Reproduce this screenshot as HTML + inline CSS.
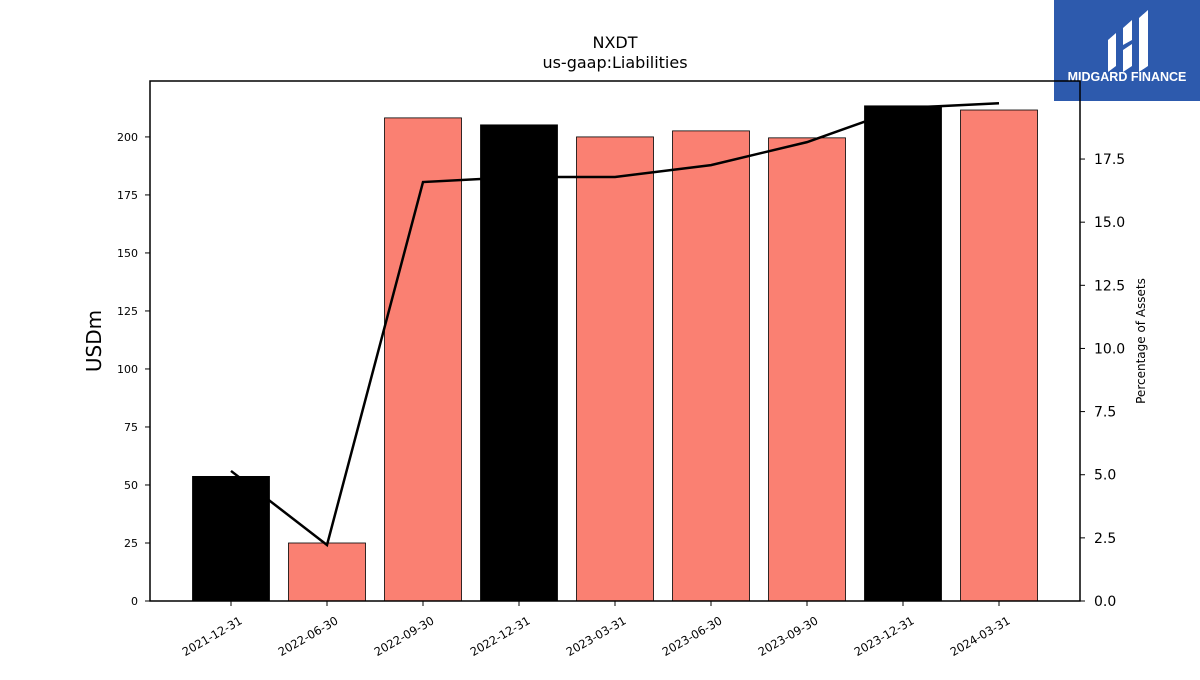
<!DOCTYPE html>
<html><head><meta charset="utf-8"><style>
body{margin:0;background:#fff;width:1200px;height:675px;overflow:hidden;font-family:"Liberation Sans","DejaVu Sans",sans-serif}
</style></head><body>
<svg id="chart" width="1200" height="675" xmlns="http://www.w3.org/2000/svg" font-family="DejaVu Sans, Liberation Sans, sans-serif">
<g>
<rect x="1054" y="0" width="146" height="101" fill="#2d5aad"/>
<path d="M1108 40 L1116 33 L1116 66 L1108 72 Z" fill="#fff"/>
<path d="M1123 28 L1132 20 L1132 40 L1123 45 Z M1123 50 L1132 44 L1132 66 L1123 72 Z" fill="#fff"/>
<path d="M1139 18 L1148 10 L1148 66 L1139 72 Z" fill="#fff"/>
<text x="1127" y="81" text-anchor="middle" font-size="12.5" font-weight="bold" fill="#fff" font-family="Liberation Sans, sans-serif">MIDGARD FINANCE</text>
</g>
<text x="615" y="48" text-anchor="middle" font-size="16">NXDT</text>
<text x="615" y="68" text-anchor="middle" font-size="16">us-gaap:Liabilities</text>
<text transform="translate(101,341) rotate(-90)" text-anchor="middle" font-size="20">USDm</text>
<text transform="translate(1145,341) rotate(-90)" text-anchor="middle" font-size="12">Percentage of Assets</text>
<g id="bars"></g><g id="xaxis"></g><g id="yaxis"></g><g id="y2axis"></g><g id="line"></g>
<rect x="150" y="81" width="930" height="520" fill="none" stroke="#000" stroke-width="1.5"/>
</svg>
<script>
const categories=["2021-12-31","2022-06-30","2022-09-30","2022-12-31","2023-03-31","2023-06-30","2023-09-30","2023-12-31","2024-03-31"];
const liabilities=[53.7,25,208.2,205.2,200,202.6,199.6,213.4,211.6];
const pctAssets=[5.15,2.22,16.59,16.79,16.79,17.26,18.17,19.52,19.71];
const yTicks=[0,25,50,75,100,125,150,175,200];
const y2Ticks=[0,2.5,5,7.5,10,12.5,15,17.5];
const NS="http://www.w3.org/2000/svg";
const L=150,R=1080,T=81,B=601;
const yMax=224.1,y2Max=20.59;
const y=v=>B-v/yMax*(B-T);
const y2=v=>B-v/y2Max*(B-T);
const step=96,x0=231;
const x=i=>x0+i*step;
const bw=77;
function mk(t,a,p){const e=document.createElementNS(NS,t);for(const k in a)e.setAttribute(k,a[k]);document.getElementById(p).appendChild(e);return e;}
categories.forEach((c,i)=>{
 const r=mk("rect",{x:x(i)-bw/2,y:y(liabilities[i]),width:bw,height:B-y(liabilities[i]),fill:c.endsWith("12-31")?"#000":"#fa8072",stroke:"#000","stroke-width":0.8},"bars");
 
 
 mk("line",{x1:x(i),x2:x(i),y1:B,y2:B+5,stroke:"#000"},"xaxis");
 const t=mk("text",{x:x(i)+12,y:B+22,"font-size":11.5,"text-anchor":"end",transform:`rotate(-30 ${x(i)+12} ${B+22})`},"xaxis");
 t.textContent=c;
 
 
});
yTicks.forEach(v=>{
 mk("line",{x1:L-5,x2:L,y1:y(v),y2:y(v),stroke:"#000"},"yaxis");
 const t=mk("text",{x:L-12,y:y(v)+4,"font-size":11,"text-anchor":"end"},"yaxis");
 t.textContent=v;
 
 
});
y2Ticks.forEach(v=>{
 mk("line",{x1:R,x2:R+5,y1:y2(v),y2:y2(v),stroke:"#000"},"y2axis");
 const t=mk("text",{x:R+14,y:y2(v)+5,"font-size":14},"y2axis");
 t.textContent=v.toFixed(1);
 
 
});
const pl=mk("polyline",{points:pctAssets.map((v,i)=>x(i)+","+y2(v)).join(" "),fill:"none",stroke:"#000","stroke-width":2.5},"line");


</script>
</body></html>
